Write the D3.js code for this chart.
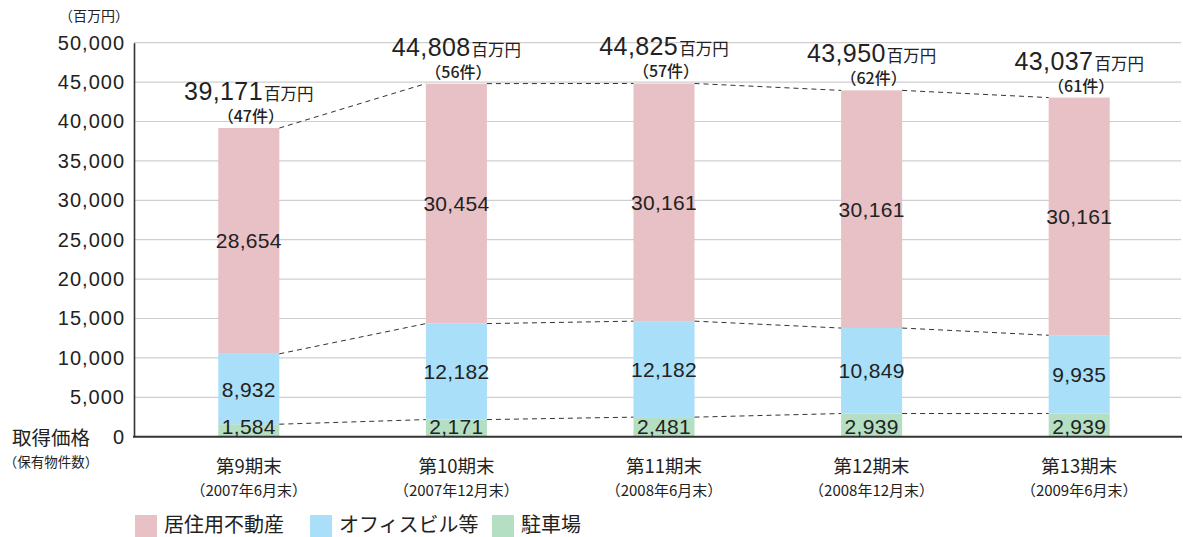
<!DOCTYPE html>
<html lang="ja">
<head>
<meta charset="utf-8">
<script src="https://cdn.jsdelivr.net/npm/d3@7/dist/d3.min.js"></script>
<style>
  html, body { margin: 0; padding: 0; background: #fff; }
  svg { display: block; font-family: "Liberation Sans", Arial, "Noto Sans CJK JP", sans-serif; }
  .jp { font-family: "Noto Sans CJK JP", "Liberation Sans", sans-serif; }
</style>
</head>
<body>
<svg id="chart" width="1183" height="537"></svg>
<script>
// Period labels and dates
const periods = ["第9期末", "第10期末", "第11期末", "第12期末", "第13期末"];
const periodDates = ["（2007年6月末）", "（2007年12月末）", "（2008年6月末）", "（2008年12月末）", "（2009年6月末）"];

// Acquisition price by asset type (million yen)
const parking = [1584, 2171, 2481, 2939, 2939];
const office = [8932, 12182, 12182, 10849, 9935];
const residential = [28654, 30454, 30161, 30161, 30161];

// Totals and number of properties held
const totals = [39171, 44808, 44825, 43950, 43037];
const propertyCounts = [47, 56, 57, 62, 61];

const seriesNames = ["居住用不動産", "オフィスビル等", "駐車場"];
const yTicks = [0, 5000, 10000, 15000, 20000, 25000, 30000, 35000, 40000, 45000, 50000];

const colors = { res: "#e7c1c5", off: "#a9dff9", park: "#b4dfc2" };

const svg = d3.select("#chart");
const fmt = d3.format(",");

const y = d3.scaleLinear().domain([0, 50000]).range([436.7, 42.7]);
const x = d3.scaleBand().domain(periods).range([145, 1183])
  .paddingInner(0.706).paddingOuter(0.353);

// Horizontal gridlines
svg.append("g").selectAll("line").data(yTicks.filter(d => d > 0)).join("line")
  .attr("x1", 134).attr("x2", 1181)
  .attr("y1", d => y(d)).attr("y2", d => y(d))
  .attr("stroke", "#cfcfcf").attr("stroke-width", 1.2);

// Y axis
const yAxis = svg.append("g").attr("transform", "translate(134,0)")
  .call(d3.axisLeft(y).tickValues(yTicks).tickFormat(fmt).tickSize(0).tickPadding(9));
yAxis.select(".domain").attr("stroke", "#333").attr("stroke-width", 1.6);
yAxis.selectAll("text").attr("font-size", 20).attr("fill", "#222")
  .attr("letter-spacing", 1)
  .attr("font-family", "Liberation Sans, Arial, sans-serif");

// Stacked data
const stackData = periods.map((p, i) => ({ p, park: parking[i], off: office[i], res: residential[i] }));
const keys = ["park", "off", "res"];
const stacked = d3.stack().keys(keys)(stackData);

const barG = svg.append("g");
stacked.forEach(layer => {
  barG.append("g").selectAll("rect").data(layer).join("rect")
    .attr("x", d => x(d.data.p))
    .attr("width", x.bandwidth())
    .attr("y", d => y(d[1]))
    .attr("height", d => y(d[0]) - y(d[1]))
    .attr("fill", colors[layer.key]);
});

// Dashed connectors between segment tops of neighbouring bars
const connG = svg.append("g");
stacked.forEach(layer => {
  for (let i = 0; i < layer.length - 1; i++) {
    connG.append("line")
      .attr("x1", x(periods[i]) + x.bandwidth())
      .attr("y1", y(layer[i][1]))
      .attr("x2", x(periods[i + 1]))
      .attr("y2", y(layer[i + 1][1]))
      .attr("stroke", "#333").attr("stroke-width", 1)
      .attr("stroke-dasharray", "5,4");
  }
});

// X axis baseline
svg.append("line").attr("x1", 133).attr("x2", 1182)
  .attr("y1", y(0)).attr("y2", y(0))
  .attr("stroke", "#333").attr("stroke-width", 2);

// Segment value labels
const labG = svg.append("g").attr("font-size", 21).attr("fill", "#222")
  .attr("text-anchor", "middle").attr("letter-spacing", 0.3);
stacked.forEach(layer => {
  labG.append("g").selectAll("text").data(layer).join("text")
    .attr("x", d => x(d.data.p) + x.bandwidth() / 2)
    .attr("y", d => layer.key === "park" ? y(0) - 3 : (y(d[0]) + y(d[1])) / 2 + 7.5)
    .text(d => fmt(d.data[layer.key]));
});

// Total labels above bars
const totG = svg.append("g").attr("fill", "#222").attr("text-anchor", "middle");
periods.forEach((p, i) => {
  const cx = x(p) + x.bandwidth() / 2;
  const top = y(totals[i]);
  const t = totG.append("text").attr("x", cx).attr("y", top - 28);
  t.append("tspan").attr("font-size", 25).attr("letter-spacing", 0.4).text(fmt(totals[i]));
  t.append("tspan").attr("class", "jp").attr("font-size", 16.5).attr("dx", 1).text("百万円");
  totG.append("text").attr("class", "jp").attr("x", cx + 2).attr("y", top - 6)
    .attr("font-size", 16).attr("font-weight", 500)
    .text(`（${propertyCounts[i]}件）`);
});

// Category labels
const catG = svg.append("g").attr("class", "jp").attr("fill", "#222").attr("text-anchor", "middle");
periods.forEach((p, i) => {
  const cx = x(p) + x.bandwidth() / 2;
  catG.append("text").attr("x", cx).attr("y", 473).attr("font-size", 18.5).text(p);
  catG.append("text").attr("x", cx).attr("y", 496).attr("font-size", 15).text(periodDates[i]);
});

// Axis titles
svg.append("text").attr("class", "jp").attr("x", 94).attr("y", 21)
  .attr("text-anchor", "middle").attr("font-size", 14).attr("fill", "#222").text("（百万円）");
svg.append("text").attr("class", "jp").attr("x", 12).attr("y", 445)
  .attr("font-size", 19.5).attr("fill", "#222").text("取得価格");
svg.append("text").attr("class", "jp").attr("x", 51).attr("y", 467)
  .attr("text-anchor", "middle").attr("font-size", 13.5).attr("fill", "#222").text("（保有物件数）");

// Legend
const legendItems = [
  { name: seriesNames[0], key: "res", x: 135 },
  { name: seriesNames[1], key: "off", x: 310 },
  { name: seriesNames[2], key: "park", x: 492 }
];
const legG = svg.append("g");
legendItems.forEach(it => {
  legG.append("rect").attr("x", it.x).attr("y", 515).attr("width", 22).attr("height", 22)
    .attr("fill", colors[it.key]);
  legG.append("text").attr("class", "jp").attr("x", it.x + 29).attr("y", 532)
    .attr("font-size", 20).attr("fill", "#222").text(it.name);
});
</script>
</body>
</html>
